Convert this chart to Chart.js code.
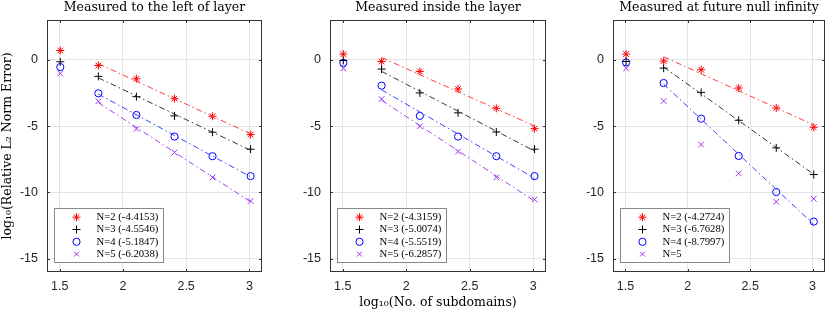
<!DOCTYPE html>
<html>
<head>
<meta charset="utf-8">
<script src="https://cdn.jsdelivr.net/npm/chart.js@4.4.0/dist/chart.umd.min.js"></script>
<style>
  body { margin: 0; background: #fff; width: 830px; height: 312px; position: relative; overflow: hidden; }
  .panel { position: absolute; top: 0; height: 312px; }
</style>
</head>
<body>
<div class="panel" style="left:0;width:275px"><canvas id="c1"></canvas></div>
<div class="panel" style="left:280px;width:278px"><canvas id="c2"></canvas></div>
<div class="panel" style="left:563px;width:267px"><canvas id="c3"></canvas></div>
<script>
// log10 of number of subdomains
const xLog = [1.505, 1.806, 2.107, 2.408, 2.709, 3.010];
const xTicks = [1.5, 2, 2.5, 3];
const yTicks = [-15, -10, -5, 0];

// left of layer
const leftN2 = [0.70, -0.43, -1.43, -2.93, -4.26, -5.64];
const leftN3 = [-0.15, -1.25, -2.78, -4.23, -5.46, -6.74];
const leftN4 = [-0.55, -2.53, -4.16, -5.79, -7.27, -8.77];
const leftN5 = [-1.03, -3.13, -5.21, -6.99, -8.87, -10.65];
const leftLabels = ['N=2 (-4.4153)', 'N=3 (-4.5546)', 'N=4 (-5.1847)', 'N=5 (-6.2038)'];

// inside the layer
const insideN2 = [0.43, -0.13, -0.88, -2.20, -3.66, -5.19];
const insideN3 = [-0.05, -0.70, -2.50, -4.00, -5.44, -6.74];
const insideN4 = [-0.23, -1.95, -4.23, -5.79, -7.27, -8.77];
const insideN5 = [-0.65, -2.96, -5.01, -6.92, -8.87, -10.53];
const insideLabels = ['N=2 (-4.3159)', 'N=3 (-5.0074)', 'N=4 (-5.5519)', 'N=5 (-6.2857)'];

// future null infinity
const scriN2 = [0.43, -0.10, -0.75, -2.13, -3.63, -5.09];
const scriN3 = [-0.13, -0.63, -2.46, -4.56, -6.64, -8.65];
const scriN4 = [-0.20, -1.75, -4.44, -7.25, -9.97, -12.20];
const scriN5 = [-0.65, -3.11, -6.39, -8.57, -10.70, -10.48];
const scriLabels = ['N=2 (-4.2724)', 'N=3 (-6.7628)', 'N=4 (-8.7997)', 'N=5'];

const markers = ['star', 'cross', 'circle', 'crossRot'];
const colors = ['#ff0000', '#000000', '#0000ff', '#9933ee'];
const lineColors = ['#ff3b3b', '#333333', '#3344ff', '#a040f0'];
const radii = [4, 4, 3.6, 4];

// least squares line through the points from the second one on
function fitLine(ys) {
  const xs = xLog.slice(1), vs = ys.slice(1);
  const n = xs.length;
  const mx = xs.reduce((a, b) => a + b, 0) / n;
  const my = vs.reduce((a, b) => a + b, 0) / n;
  let sxy = 0, sxx = 0;
  for (let i = 0; i < n; i++) { sxy += (xs[i] - mx) * (vs[i] - my); sxx += (xs[i] - mx) ** 2; }
  const b = sxy / sxx, a = my - b * mx;
  return [{ x: xs[0], y: a + b * xs[0] }, { x: xs[n - 1], y: a + b * xs[n - 1] }];
}

function drawMark(ctx, style, x, y, r) {
  ctx.beginPath();
  if (style === 'circle') {
    ctx.arc(x, y, r, 0, Math.PI * 2);
  } else {
    const d = r * Math.SQRT1_2;
    if (style === 'cross' || style === 'star') {
      ctx.moveTo(x - r, y); ctx.lineTo(x + r, y);
      ctx.moveTo(x, y - r); ctx.lineTo(x, y + r);
    }
    if (style === 'crossRot' || style === 'star') {
      ctx.moveTo(x - d, y - d); ctx.lineTo(x + d, y + d);
      ctx.moveTo(x - d, y + d); ctx.lineTo(x + d, y - d);
    }
  }
  ctx.stroke();
}

// box round the axes, inward ticks, and the legend inside the axes
const framePlugin = {
  id: 'frame',
  afterDraw(chart, args, opts) {
    const { ctx, chartArea: a, scales } = chart;
    ctx.save();
    ctx.strokeStyle = '#333';
    ctx.lineWidth = 1;
    ctx.strokeRect(a.left + 0.5, a.top + 0.5, a.right - a.left - 1, a.bottom - a.top - 1);
    ctx.beginPath();
    xTicks.forEach(v => {
      const px = Math.round(scales.x.getPixelForValue(v)) + 0.5;
      ctx.moveTo(px, a.bottom); ctx.lineTo(px, a.bottom - 3);
      ctx.moveTo(px, a.top); ctx.lineTo(px, a.top + 3);
    });
    yTicks.forEach(v => {
      const py = Math.round(scales.y.getPixelForValue(v)) + 0.5;
      ctx.moveTo(a.left, py); ctx.lineTo(a.left + 3, py);
      ctx.moveTo(a.right, py); ctx.lineTo(a.right - 3, py);
    });
    ctx.stroke();

    const bx = a.left + 7.5, by = a.bottom - 63.5, bw = 109, bh = 54;
    ctx.fillStyle = '#fff';
    ctx.fillRect(bx, by, bw, bh);
    ctx.strokeStyle = '#888';
    ctx.strokeRect(bx, by, bw, bh);
    ctx.font = '10.7px "Liberation Serif", serif';
    ctx.textBaseline = 'middle';
    ctx.textAlign = 'left';
    opts.labels.forEach((t, i) => {
      const y = by + 8.7 + i * 12.3;
      ctx.strokeStyle = colors[i];
      ctx.lineWidth = 1;
      drawMark(ctx, markers[i], bx + 22, y, i === 3 ? 3.4 : radii[i]);
      ctx.fillStyle = '#000';
      ctx.fillText(t, bx + 42, y);
    });
    ctx.restore();
  }
};

function makePanel(id, title, series, labels, fitCount, axisW, rightPad, showYTitle, showXTitle) {
  const datasets = [];
  series.forEach((ys, i) => {
    if (i < fitCount) {
      datasets.push({
        type: 'line',
        data: fitLine(ys),
        borderColor: lineColors[i],
        borderWidth: 1,
        borderDash: [6, 3, 1.5, 3],
        pointRadius: 0,
        fill: false
      });
    }
    datasets.push({
      type: 'scatter',
      data: xLog.map((x, k) => ({ x: x, y: ys[k] })),
      pointStyle: markers[i],
      pointRadius: radii[i],
      borderColor: colors[i],
      backgroundColor: 'rgba(0,0,0,0)',
      pointBorderWidth: 1
    });
  });

  new Chart(document.getElementById(id), {
    type: 'scatter',
    data: { datasets: datasets },
    plugins: [framePlugin],
    options: {
      responsive: true,
      maintainAspectRatio: false,
      animation: false,
      events: [],
      layout: { padding: { left: 0, right: rightPad, top: 0, bottom: 0 } },
      plugins: {
        legend: { display: false },
        tooltip: { enabled: false },
        frame: { labels: labels },
        title: {
          display: true,
          text: title,
          fullSize: false,
          color: '#000',
          font: { family: '"DejaVu Serif", serif', size: 12.5, weight: 'normal', lineHeight: 1.2 },
          padding: { top: 0, bottom: 5 }
        }
      },
      scales: {
        x: {
          type: 'linear',
          min: 1.4, max: 3.1,
          afterBuildTicks: s => { s.ticks = xTicks.map(v => ({ value: v })); },
          afterFit: s => { s.height = 40; },
          grid: { color: '#e4e4e4', drawTicks: false },
          border: { display: false },
          ticks: {
            color: '#262626', padding: 7,
            font: { family: '"Liberation Sans", Arial, sans-serif', size: 12.5 },
            callback: v => String(v)
          },
          title: {
            display: showXTitle,
            text: 'log₁₀(No. of subdomains)',
            color: '#000',
            font: { family: '"DejaVu Serif", serif', size: 12.5 },
            padding: { top: 0, bottom: 2 }
          }
        },
        y: {
          type: 'linear',
          min: -16, max: 3,
          afterBuildTicks: s => { s.ticks = yTicks.map(v => ({ value: v })); },
          afterFit: s => { s.width = axisW; },
          grid: { color: '#e4e4e4', drawTicks: false },
          border: { display: false },
          ticks: {
            color: '#262626', padding: 9,
            font: { family: '"Liberation Sans", Arial, sans-serif', size: 12.5 },
            callback: v => String(v)
          },
          title: {
            display: showYTitle,
            text: 'log₁₀(Relative L₂ Norm Error)',
            color: '#000',
            font: { family: '"DejaVu Serif", serif', size: 12.5 },
            padding: { top: 0, bottom: 0 }
          }
        }
      }
    }
  });
}

makePanel('c1', 'Measured to the left of layer', [leftN2, leftN3, leftN4, leftN5], leftLabels, 4, 47, 13, true, false);
makePanel('c2', 'Measured inside the layer', [insideN2, insideN3, insideN4, insideN5], insideLabels, 4, 50, 12, false, true);
makePanel('c3', 'Measured at future null infinity', [scriN2, scriN3, scriN4, scriN5], scriLabels, 3, 50, 1, false, false);
</script>
</body>
</html>
